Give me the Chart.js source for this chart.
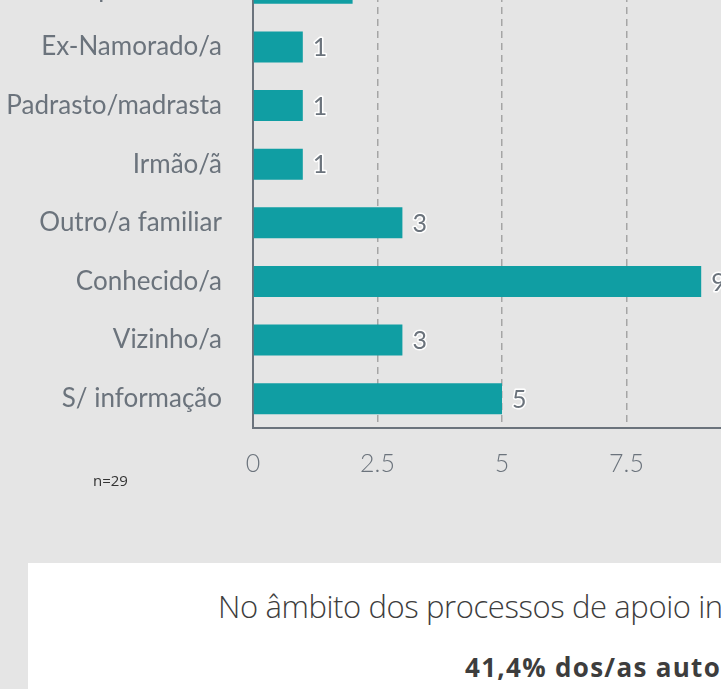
<!DOCTYPE html>
<html lang="pt">
<head>
<meta charset="utf-8">
<script src="https://cdn.jsdelivr.net/npm/chart.js@4"></script>
<style>
  html, body { margin: 0; padding: 0; width: 721px; height: 689px; overflow: hidden; background: #e5e5e5; }
  #grafico-box { position: absolute; left: 0; top: -50px; width: 800px; height: 540px; }
  #amostra { position: absolute; left: 93px; top: 470px; font: 15px 'Open Sans', sans-serif; color: #333; }
  #caixa { position: absolute; left: 28px; top: 563px; width: 900px; height: 200px; background: #fff; }
  .linha { position: absolute; white-space: nowrap; font-family: 'Open Sans', sans-serif; color: #3d3d3d; line-height: normal; }
  #linha1 { left: 190px; top: 22px; font-size: 31px; font-weight: 300; letter-spacing: -0.4px; }
  #linha2 { left: 437px; top: 86px; font-size: 26px; font-weight: 700; letter-spacing: 1.3px; }
</style>
</head>
<body>
<div id="grafico-box"><canvas id="grafico" width="800" height="540"></canvas></div>
<div id="amostra">n=29</div>
<div id="caixa">
  <div class="linha" id="linha1">No âmbito dos processos de apoio in</div>
  <div class="linha" id="linha2">41,4% dos/as auto</div>
</div>
<script>
// === Dados ===
const categorias = ['Companheiro/a', 'Ex-Namorado/a', 'Padrasto/madrasta', 'Irmão/ã', 'Outro/a familiar', 'Conhecido/a', 'Vizinho/a', 'S/ informação'];
const valores = [2, 1, 1, 1, 3, 9, 3, 5];
const ticksX = [0, 2.5, 5, 7.5, 10];

const corTexto = '#6b737c';

// rótulos de valor com contorno branco
const rotulosValor = {
  id: 'rotulosValor',
  afterDatasetsDraw(chart) {
    const ctx = chart.ctx;
    const meta = chart.getDatasetMeta(0);
    ctx.save();
    ctx.font = "400 25px Lato";
    ctx.textAlign = 'left';
    ctx.textBaseline = 'middle';
    ctx.lineJoin = 'round';
    ctx.lineWidth = 3;
    ctx.strokeStyle = '#ffffff';
    ctx.fillStyle = corTexto;
    meta.data.forEach((barra, i) => {
      const txt = String(valores[i]);
      ctx.strokeText(txt, barra.x + 10, barra.y + 1);
      ctx.fillText(txt, barra.x + 10, barra.y + 1);
    });
    ctx.restore();
  }
};

new Chart(document.getElementById('grafico').getContext('2d'), {
  type: 'bar',
  data: {
    labels: categorias,
    datasets: [{
      data: valores,
      backgroundColor: '#109ea3',
      categoryPercentage: 1,
      barPercentage: 0.53
    }]
  },
  options: {
    indexAxis: 'y',
    responsive: false,
    animation: false,
    layout: { padding: { top: 9, right: 49, left: 0, bottom: 0 } },
    plugins: { legend: { display: false }, tooltip: { enabled: false } },
    scales: {
      x: {
        min: 0,
        max: 10,
        afterBuildTicks: (scale) => { scale.ticks = ticksX.map(v => ({ value: v })); },
        afterFit: (scale) => { scale.height = 62; scale.paddingLeft = 0; scale.paddingRight = 0; },
        ticks: { color: corTexto, font: { family: 'Lato', size: 25, weight: 300 }, padding: 21 },
        grid: {
          color: (c) => (c.tick && c.tick.value === 0) ? 'rgba(0,0,0,0)' : '#a5a5a5',
          lineWidth: 1.5,
          drawTicks: false
        },
        border: { display: true, color: '#6b737c', width: 2, dash: [7, 5] }
      },
      y: {
        afterFit: (scale) => { scale.width = 253; scale.paddingTop = 0; scale.paddingBottom = 0; },
        ticks: { color: corTexto, font: { family: 'Lato', size: 26 }, padding: 31 },
        grid: { display: false, drawTicks: false },
        border: { display: true, color: '#6b737c', width: 2 }
      }
    }
  },
  plugins: [rotulosValor]
});
</script>
</body>
</html>
